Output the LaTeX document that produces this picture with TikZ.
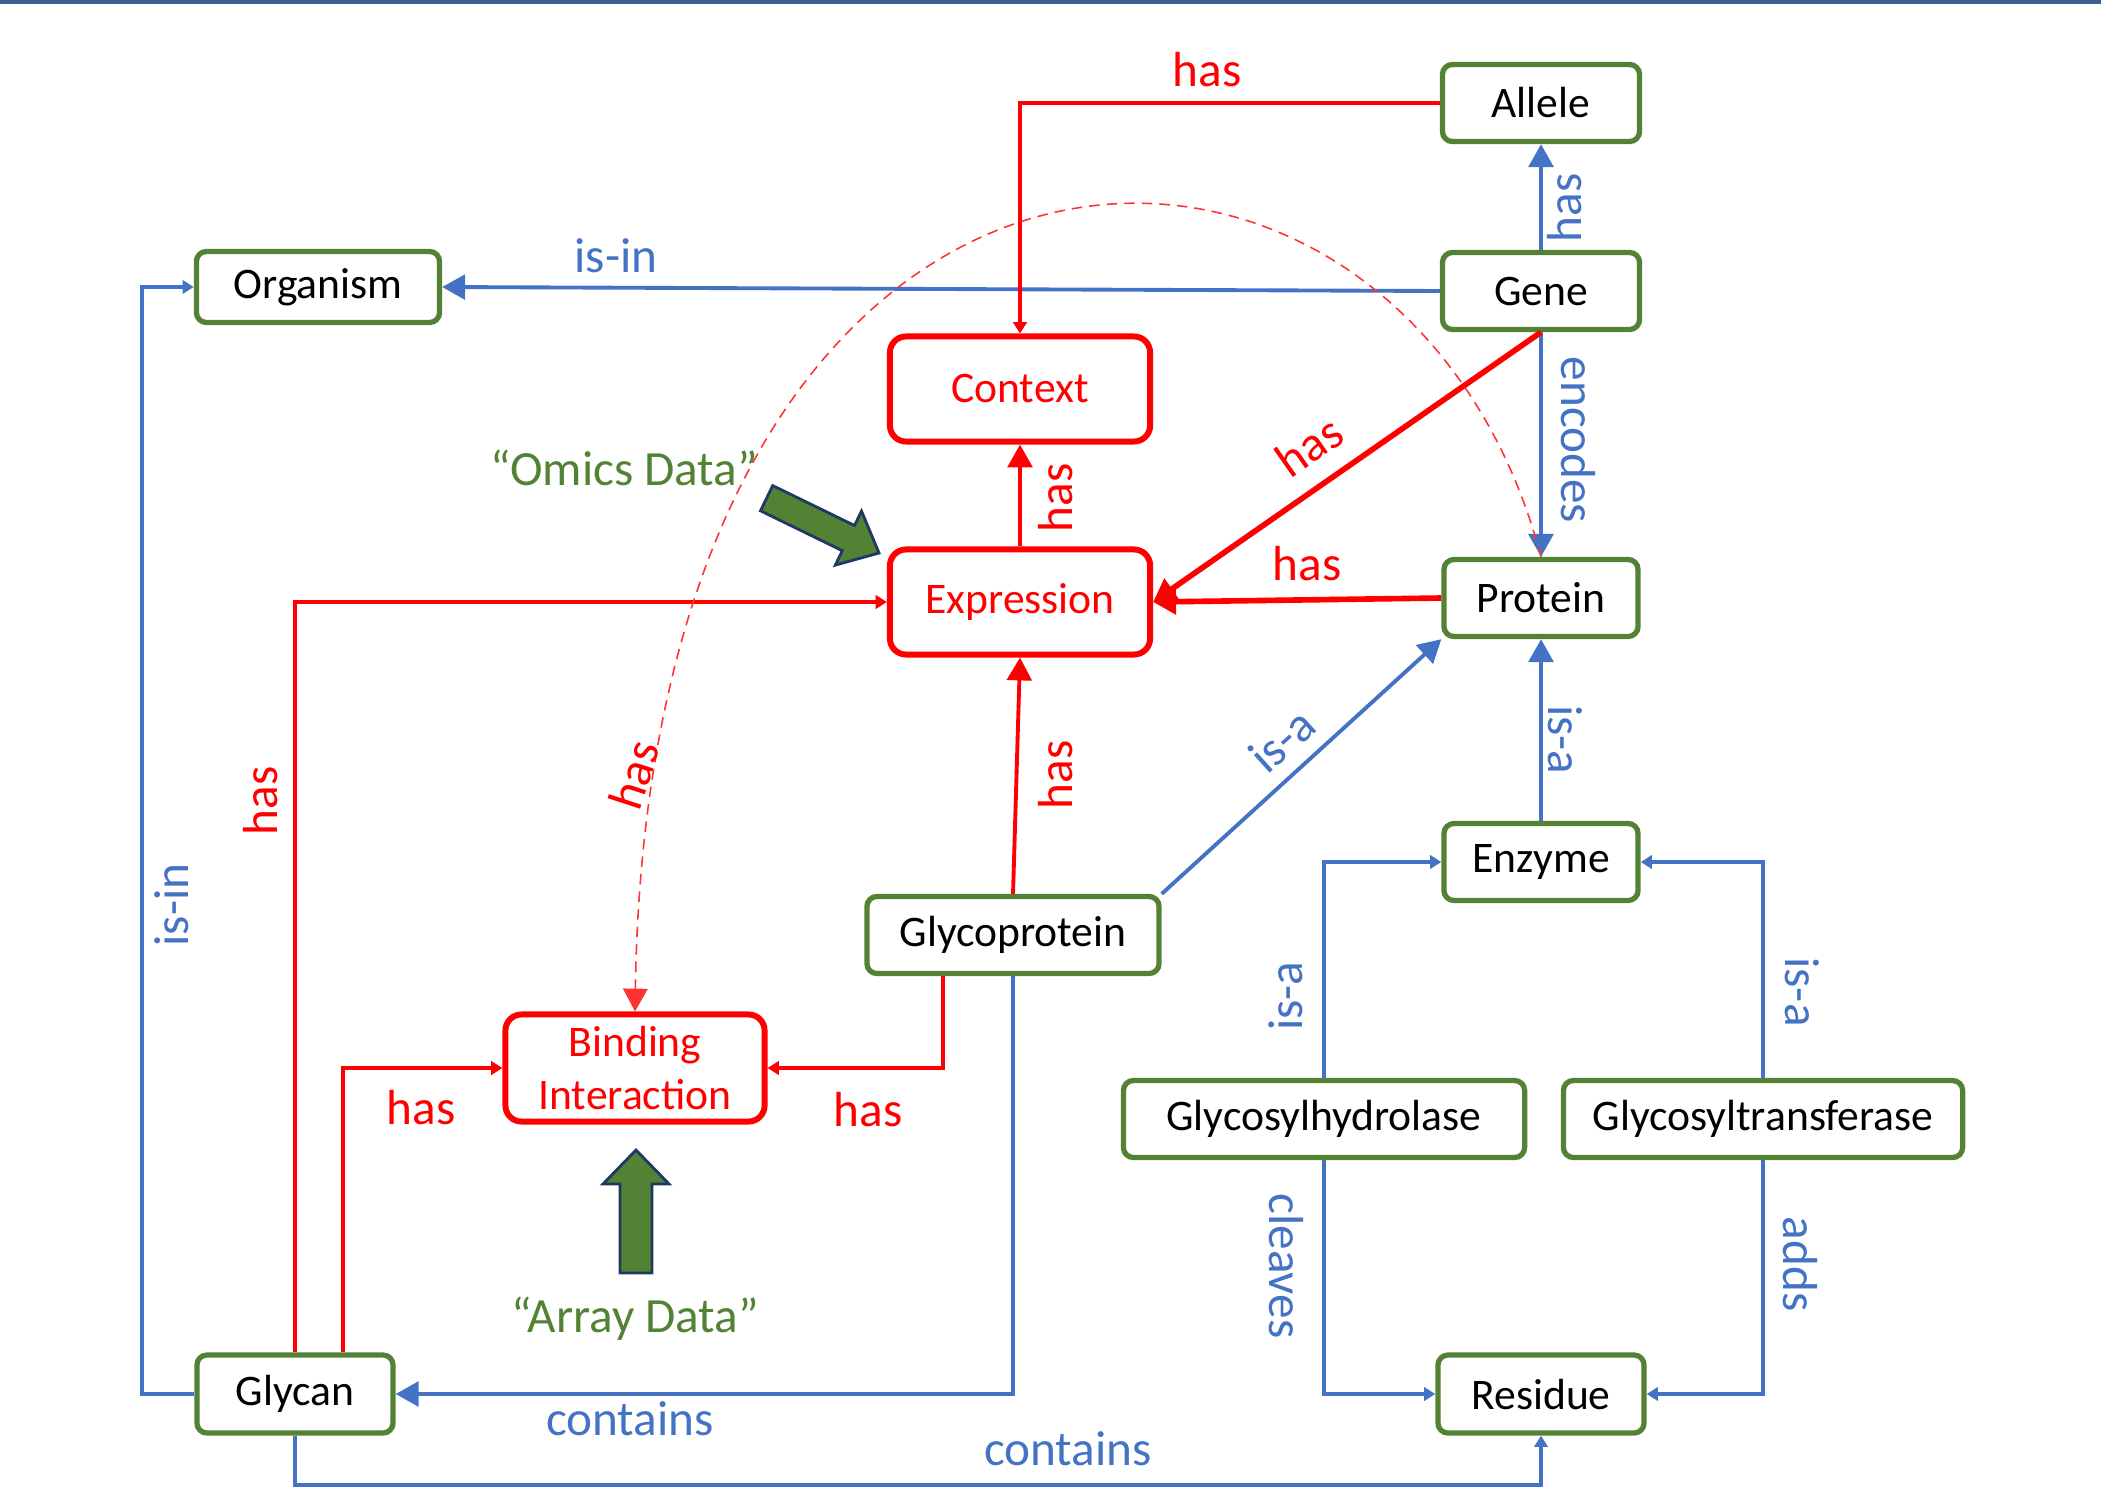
\documentclass[tikz,border=0pt]{standalone}
\usepackage{fontspec}
\setmainfont{Carlito}
\usetikzlibrary{arrows.meta,calc,positioning}
\definecolor{glyGreen}{RGB}{84,130,53}
\definecolor{glyRed}{RGB}{255,0,0}
\definecolor{glyBlue}{RGB}{68,114,196}
\definecolor{glyNavy}{RGB}{32,56,100}
\definecolor{glyBar}{RGB}{59,94,140}

\tikzset{
  entity/.style={draw=glyGreen, line width=1.5pt, rounded corners=0.1cm, fill=white,
    minimum height=0.77cm, inner sep=0pt, font=\fontsize{12.4}{14}\selectfont},
  datum/.style={draw=glyRed, text=glyRed, line width=1.7pt, rounded corners=0.16cm, fill=white,
    minimum width=2.6cm, minimum height=1.05cm, inner sep=0pt, align=center,
    font=\fontsize{12.4}{15.3}\selectfont},
  isrel/.style={glyBlue, line width=1.1pt},
  hasrel/.style={glyRed, line width=1.1pt},
  bigtip/.style={-{Triangle[length=6.5pt,width=7pt]}},
  smalltip/.style={-{Triangle[length=3.2pt,width=3.8pt]}},
  bluelbl/.style={text=glyBlue, inner sep=0pt, font=\fontsize{14}{16}\selectfont},
  redlbl/.style={text=glyRed, inner sep=0pt, font=\fontsize{14}{16}\selectfont},
  datalbl/.style={text=glyGreen, inner sep=0pt, font=\fontsize{14}{16}\selectfont},
  blockarrow/.style={fill=glyGreen, draw=glyNavy, line width=0.8pt, line join=miter}
}

\begin{document}
\begin{tikzpicture}[x=0.01cm,y=-0.01cm]

\useasboundingbox (0,0) rectangle (2101,1497);
\fill[glyBar] (0,0) rectangle (2101,4);

% =========================
% Entities
% =========================
\node[entity, minimum width=1.97cm] (allele) at (1541,103) {Allele};
\node[entity, minimum width=1.97cm] (gene) at (1541,291) {Gene};
\node[entity, minimum width=2.43cm, minimum height=0.71cm] (organism) at (318,287) {Organism};
\node[entity, minimum width=1.94cm] (protein) at (1541,598) {Protein};
\node[entity, minimum width=1.94cm] (enzyme) at (1541,862) {Enzyme};
\node[entity, minimum width=2.92cm] (glycoprotein) at (1013,935) {Glycoprotein};
\node[entity, minimum width=4.01cm] (hydrolase) at (1324,1119) {Glycosylhydrolase};
\node[entity, minimum width=3.99cm] (transferase) at (1763,1119) {Glycosyltransferase};
\node[entity, minimum width=1.96cm, minimum height=0.78cm] (glycan) at (295,1394) {Glycan};
\node[entity, minimum width=2.06cm, minimum height=0.78cm] (residue) at (1541,1394) {Residue};

% data nodes
\node[datum] (context) at (1020,389) {Context};
\node[datum] (expression) at (1020,602) {Expression};
\node[datum, minimum width=2.59cm, minimum height=1.07cm] (binding) at (635,1068) {Binding\\Interaction};

% =========================
% Blue relations
% =========================
\draw[isrel, bigtip] (gene.north) -- (allele.south);
\draw[isrel, bigtip] (gene.west) -- (organism.east);
\draw[isrel, bigtip] (gene.south) -- (protein.north);
\draw[isrel, bigtip] (glycoprotein.north east) -- (protein.south west);
\draw[isrel, bigtip] (enzyme.north) -- (protein.south);
\draw[isrel, smalltip] (hydrolase.north) |- (enzyme.west);
\draw[isrel, smalltip] (transferase.north) |- (enzyme.east);
\draw[isrel, smalltip] (hydrolase.south) |- (residue.west);
\draw[isrel, smalltip] (transferase.south) |- (residue.east);
\draw[isrel, bigtip] (glycoprotein.south) |- (glycan.east);
\draw[isrel, smalltip] (glycan.west) -- ++(-52,0) |- (organism.west);
\draw[isrel, smalltip] (glycan.south) -- ++(0,49) -| (residue.south);

% =========================
% Red relations
% =========================
\draw[hasrel, smalltip] (allele.west) -| (context.north);
\draw[hasrel, bigtip] (expression.north) -- (context.south);
\draw[hasrel, line width=1.6pt, bigtip] (gene.south) -- (expression.east);
\draw[hasrel, line width=1.6pt, bigtip] (protein.west) -- (expression.east);
\draw[hasrel, bigtip] (glycoprotein.north) -- (expression.south);
\draw[hasrel, smalltip] (glycan.north) |- (expression.west);
\coordinate (glycanhas) at ($(glycan.north)+(48,0)$);
\coordinate (glycohas) at ($(glycoprotein.south)+(-70,0)$);
\draw[hasrel, smalltip] (glycanhas) |- (binding.west);
\draw[hasrel, smalltip] (glycohas) |- (binding.east);
\draw[glyRed!80, line width=0.45pt, dash pattern=on 3pt off 2pt, bigtip]
    (protein.north) .. controls (1400,25) and (650,35) .. (binding.north);

% =========================
% Labels
% =========================
\node[redlbl] (l1) at (1207,70) {has};
\node[bluelbl, rotate=90] (l2) at (1565,208) {has};
\node[bluelbl] (l3) at (616,256) {is-in};
\node[bluelbl, rotate=-90] (l4) at (1578,440) {encodes};
\node[redlbl, rotate=35] (l5) at (1309,446) {has};
\node[redlbl] (l6) at (1307,564) {has};
\node[redlbl, rotate=90] (l7) at (1056,498) {has};
\node[redlbl, rotate=90] (l8) at (1056,775) {has};
\node[bluelbl, rotate=42] (l9) at (1282,740) {is-a};
\node[bluelbl, rotate=-90] (l10) at (1565,740) {is-a};
\node[bluelbl, rotate=90] (l11) at (1286,996) {is-a};
\node[bluelbl, rotate=-90] (l12) at (1802,992) {is-a};
\node[bluelbl, rotate=-90] (l13) at (1286,1266) {cleaves};
\node[bluelbl, rotate=-90] (l14) at (1800,1264) {adds};
\node[bluelbl, rotate=90] (l15) at (172,905) {is-in};
\node[bluelbl] (l16) at (630,1419) {contains};
\node[bluelbl] (l17) at (1068,1449) {contains};
\node[redlbl, rotate=90] (l18) at (261,801) {has};
\node[redlbl] (l19) at (421,1108) {has};
\node[redlbl] (l20) at (868,1110) {has};
\node[redlbl, rotate=72] (l21) at (634,775) {has};

% data sources
\node[datalbl] (omics) at (624,468) {“Omics Data”};
\node[datalbl] (array) at (635,1319) {“Array Data”};
\draw[blockarrow] (879,553) -- (861.5,511.1) -- (854.5,525.5) -- (772.7,485.6)
    -- (760.5,510.8) -- (842.3,550.7) -- (835.3,565.1) -- cycle;
\draw[blockarrow] (636,1150) -- (669,1184) -- (652,1184) -- (652,1273)
    -- (620,1273) -- (620,1184) -- (603,1184) -- cycle;

\end{tikzpicture}
\end{document}
